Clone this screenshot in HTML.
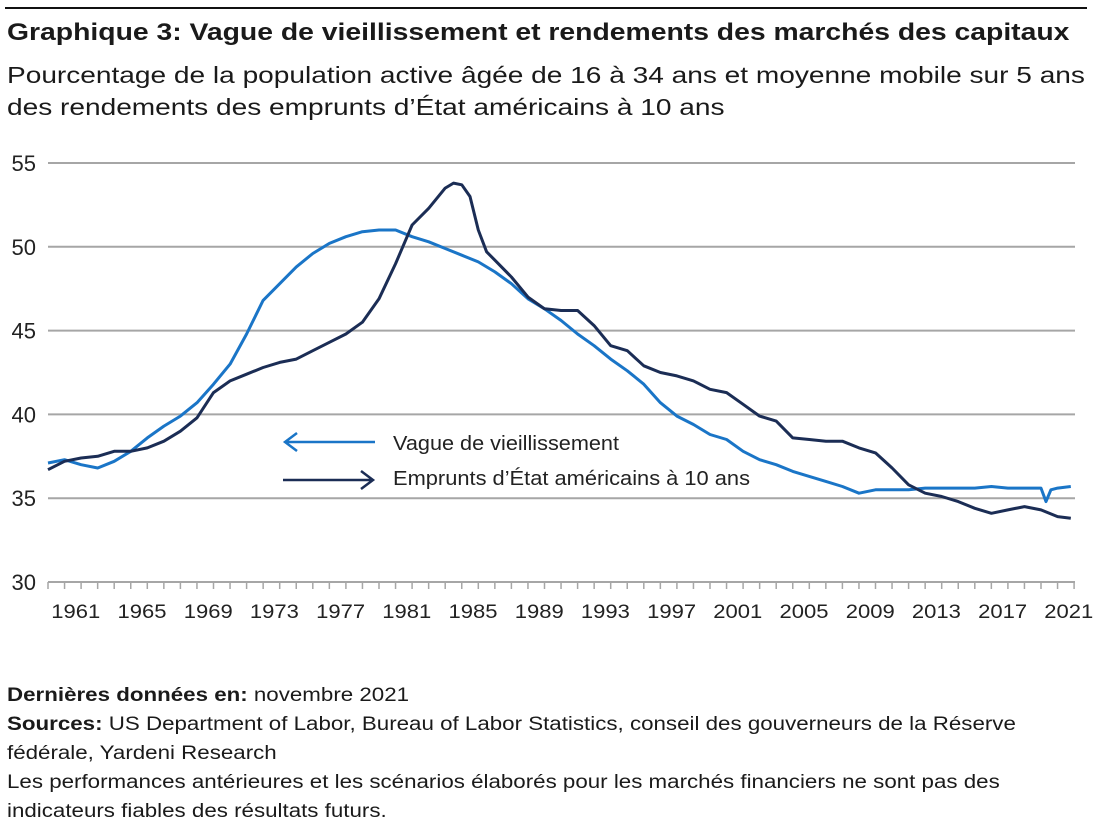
<!DOCTYPE html>
<html><head><meta charset="utf-8"><style>
body{margin:0;background:#fff;font-family:"Liberation Sans",sans-serif;color:#1a1a1a;width:1094px;height:834px;overflow:hidden;position:relative}
.t{position:absolute;left:7px;white-space:nowrap;transform-origin:0 0}
</style></head><body>
<div style="position:absolute;left:5px;top:7px;width:1082px;height:2px;background:#111"></div>
<div class="t" style="top:19px;font-size:24px;font-weight:bold;transform:scaleX(1.18)">Graphique 3: Vague de vieillissement et rendements des marchés des capitaux</div>
<div class="t" style="top:59px;font-size:23px;line-height:32px;transform:scaleX(1.22)">Pourcentage de la population active âgée de 16 à 34 ans et moyenne mobile sur 5 ans<br>des rendements des emprunts d’État américains à 10 ans</div>
<svg id="ch" width="1094" height="640" style="position:absolute;left:0;top:0"></svg>
<div class="t" style="top:681px;font-size:19px;line-height:29px;transform:scaleX(1.175)"><b>Dernières données en:</b> novembre 2021<br><b>Sources:</b> US Department of Labor, Bureau of Labor Statistics, conseil des gouverneurs de la Réserve<br>fédérale, Yardeni Research<br>Les performances antérieures et les scénarios élaborés pour les marchés financiers ne sont pas des<br>indicateurs fiables des résultats futurs.</div>
<script>
const yTicks=[30,35,40,45,50,55];
const xLabels=[1961,1965,1969,1973,1977,1981,1985,1989,1993,1997,2001,2005,2009,2013,2017,2021];
const agingYears=[1960,1961,1962,1963,1964,1965,1966,1967,1968,1969,1970,1971,1972,1973,1974,1975,1976,1977,1978,1979,1980,1981,1982,1983,1984,1985,1986,1987,1988,1989,1990,1991,1992,1993,1994,1995,1996,1997,1998,1999,2000,2001,2002,2003,2004,2005,2006,2007,2008,2009,2010,2011,2012,2013,2014,2015,2016,2017,2018,2019,2020,2020.3,2020.6,2021,2021.8];
const agingVals=[37.1,37.3,37.0,36.8,37.2,37.8,38.6,39.3,39.9,40.7,41.8,43.0,44.8,46.8,47.8,48.8,49.6,50.2,50.6,50.9,51.0,51.0,50.6,50.3,49.9,49.5,49.1,48.5,47.8,46.9,46.3,45.6,44.8,44.1,43.3,42.6,41.8,40.7,39.9,39.4,38.8,38.5,37.8,37.3,37.0,36.6,36.3,36.0,35.7,35.3,35.5,35.5,35.5,35.6,35.6,35.6,35.6,35.7,35.6,35.6,35.6,34.8,35.5,35.6,35.7];
const bondYears=[1960,1961,1962,1963,1964,1965,1966,1967,1968,1969,1970,1971,1972,1973,1974,1975,1976,1977,1978,1979,1980,1981,1982,1983,1984,1984.5,1985,1985.5,1986,1986.5,1987,1988,1989,1990,1991,1992,1993,1994,1995,1996,1997,1998,1999,2000,2001,2002,2003,2004,2005,2006,2007,2008,2009,2010,2011,2012,2013,2014,2015,2016,2017,2018,2019,2020,2021,2021.8];
const bondVals=[36.7,37.2,37.4,37.5,37.8,37.8,38.0,38.4,39.0,39.8,41.3,42.0,42.4,42.8,43.1,43.3,43.8,44.3,44.8,45.5,46.9,49.0,51.3,52.3,53.5,53.8,53.7,53.0,51.0,49.7,49.2,48.2,47.0,46.3,46.2,46.2,45.3,44.1,43.8,42.9,42.5,42.3,42.0,41.5,41.3,40.6,39.9,39.6,38.6,38.5,38.4,38.4,38.0,37.7,36.8,35.8,35.3,35.1,34.8,34.4,34.1,34.3,34.5,34.3,33.9,33.8];
const svg=document.getElementById('ch'),NS='http://www.w3.org/2000/svg';
const X=y=>48+(y-1960)*16.55, Y=v=>582-(v-30)*16.76;
function mk(t,a,p){const e=document.createElementNS(NS,t);for(const k in a)e.setAttribute(k,a[k]);(p||svg).appendChild(e);return e;}
yTicks.forEach(v=>{
  const l=mk('line',{x1:48,x2:1075,y1:Y(v),y2:Y(v),stroke:'#a6a6a6','stroke-width':2});
  
  
  const t=mk('text',{x:36,y:Y(v)+8,'text-anchor':'end','font-size':22,fill:'#222','font-family':'Liberation Sans'});
  t.textContent=v;
  
  
});
for(let yr=1960;yr<=2022;yr++){
  const k=mk('line',{x1:X(yr),x2:X(yr),y1:582,y2:589,stroke:'#a6a6a6','stroke-width':1.5});
  
  
}
xLabels.forEach(yr=>{
  const t=mk('text',{x:X(yr+0.5)+3,y:618,'text-anchor':'middle','font-size':19,fill:'#222','font-family':'Liberation Sans',textLength:49,lengthAdjust:'spacingAndGlyphs'});
  t.textContent=yr;
  
  
});
function line(xs,vs,c,n){
  const d=xs.map((x,i)=>(i?'L':'M')+X(x).toFixed(1)+','+Y(vs[i]).toFixed(1)).join('');
  const p=mk('path',{d:d,fill:'none',stroke:c,'stroke-width':3,'stroke-linejoin':'round'});
  
  
}
line(agingYears,agingVals,'#1a75c7','aging-wave-line');
line(bondYears,bondVals,'#1b2d55','bond-yield-line');
const lg1=mk('g',{});


mk('path',{d:'M285,442H375M297,433L285,442L297,451',fill:'none',stroke:'#1a75c7','stroke-width':2.5},lg1);
const t1=mk('text',{x:393,y:450,'font-size':20,fill:'#222','font-family':'Liberation Sans',textLength:226,lengthAdjust:'spacingAndGlyphs'},lg1);t1.textContent='Vague de vieillissement';
const lg2=mk('g',{});


mk('path',{d:'M283,480H373M361,471L373,480L361,489',fill:'none',stroke:'#1b2d55','stroke-width':2.5},lg2);
const t2=mk('text',{x:393,y:485,'font-size':20,fill:'#222','font-family':'Liberation Sans',textLength:357,lengthAdjust:'spacingAndGlyphs'},lg2);t2.textContent='Emprunts d’État américains à 10 ans';
</script>
</body></html>
